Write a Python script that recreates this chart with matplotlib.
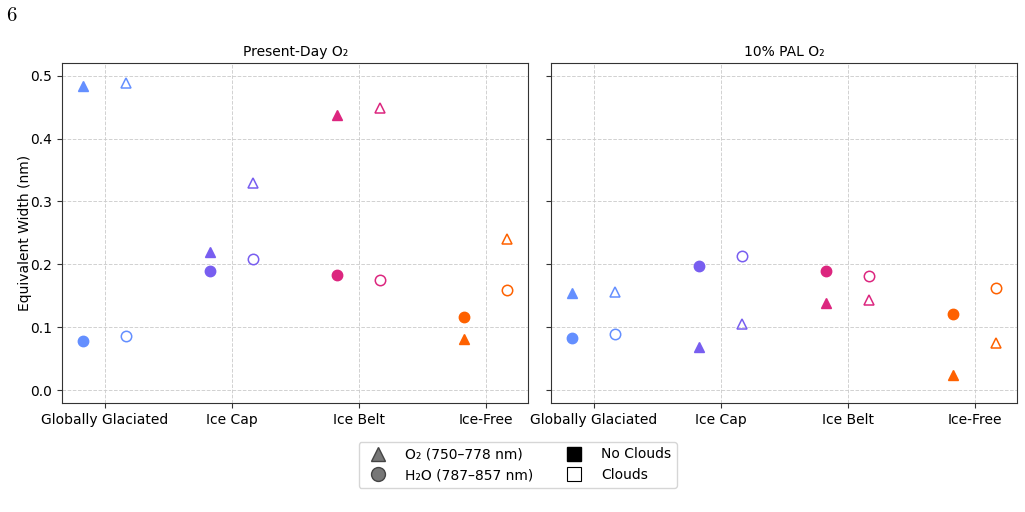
import matplotlib
matplotlib.use("Agg")
import matplotlib.pyplot as plt
from matplotlib.lines import Line2D
import numpy as np

climates = ["Globally Glaciated", "Ice Cap", "Ice Belt", "Ice-Free"]
colors = ["#648FFF", "#785EF0", "#DC267F", "#FE6100"]
panel_titles = ["Present-Day O\u2082", "10% PAL O\u2082"]

# Present-Day O2
pd_o2_noclouds = [0.484, 0.219, 0.438, 0.081]
pd_o2_clouds = [0.488, 0.330, 0.449, 0.240]
pd_h2o_noclouds = [0.079, 0.190, 0.183, 0.117]
pd_h2o_clouds = [0.086, 0.208, 0.176, 0.160]

# 10% PAL O2
pal_o2_noclouds = [0.154, 0.069, 0.138, 0.024]
pal_o2_clouds = [0.156, 0.105, 0.143, 0.076]
pal_h2o_noclouds = [0.083, 0.197, 0.189, 0.121]
pal_h2o_clouds = [0.090, 0.213, 0.181, 0.163]

panels = [
    (pd_o2_noclouds, pd_o2_clouds, pd_h2o_noclouds, pd_h2o_clouds),
    (pal_o2_noclouds, pal_o2_clouds, pal_h2o_noclouds, pal_h2o_clouds),
]

plt.rcParams["font.family"] = ["DejaVu Sans"]
fig = plt.figure(figsize=(10.25, 5.12), dpi=100)
ax1 = fig.add_axes([0.0605, 0.213, 0.455, 0.664])
ax2 = fig.add_axes([0.5376, 0.213, 0.455, 0.664], sharey=ax1)
axes = [ax1, ax2]

off = 0.17
ms = 7.5
for ax, title, (o2n, o2c, h2n, h2c) in zip(axes, panel_titles, panels):
    x = np.arange(len(climates))
    for i in range(len(climates)):
        c = colors[i]
        ax.plot(x[i] - off, o2n[i], marker="^", ls="none", ms=ms, color=c, mec=c)
        ax.plot(x[i] + off, o2c[i], marker="^", ls="none", ms=ms, mfc="none", mec=c, mew=1.1)
        ax.plot(x[i] - off, h2n[i], marker="o", ls="none", ms=ms, color=c, mec=c)
        ax.plot(x[i] + off, h2c[i], marker="o", ls="none", ms=ms, mfc="none", mec=c, mew=1.1)
    ax.set_xticks(x)
    ax.set_xticklabels(climates, fontsize=10)
    ax.set_xlim(-off - 0.05 * (3 + 2 * off), 3 + off + 0.05 * (3 + 2 * off))
    ax.set_title(title, fontsize=10, pad=5)
    ax.grid(True, ls="--", color="#cccccc", lw=0.7, alpha=0.9)
    ax.set_axisbelow(True)
    for s in ax.spines.values():
        s.set_color("#333333")
    ax.tick_params(axis="both", labelsize=10, color="#333333")

ax1.set_ylim(-0.02, 0.52)
ax1.set_yticks([0.0, 0.1, 0.2, 0.3, 0.4, 0.5])
ax1.set_ylabel("Equivalent Width (nm)", fontsize=10, labelpad=-1)
plt.setp(ax2.get_yticklabels(), visible=False)

handles = [
    Line2D([], [], marker="^", ls="none", ms=10, color="#777777", mec="#444444"),
    Line2D([], [], marker="o", ls="none", ms=10, color="#777777", mec="#444444"),
    Line2D([], [], marker="s", ls="none", ms=10, color="black", mec="black"),
    Line2D([], [], marker="s", ls="none", ms=10, mfc="white", mec="black", mew=0.8),
]
labels = ["O\u2082 (750\u2013778 nm)", "H\u2082O (787\u2013857 nm)", "No Clouds", "Clouds"]
fig.legend(handles, labels, loc="upper center", bbox_to_anchor=(0.505, 0.137),
           borderaxespad=0, ncol=2, fontsize=10, frameon=True, columnspacing=2.0,
           handletextpad=0.9, borderpad=0.4, labelspacing=0.5)

fig.text(0.006, 0.986, "6", fontsize=15, family=["cmr10", "DejaVu Serif"], va="top", ha="left")

fig.savefig("out.png", dpi=100)
